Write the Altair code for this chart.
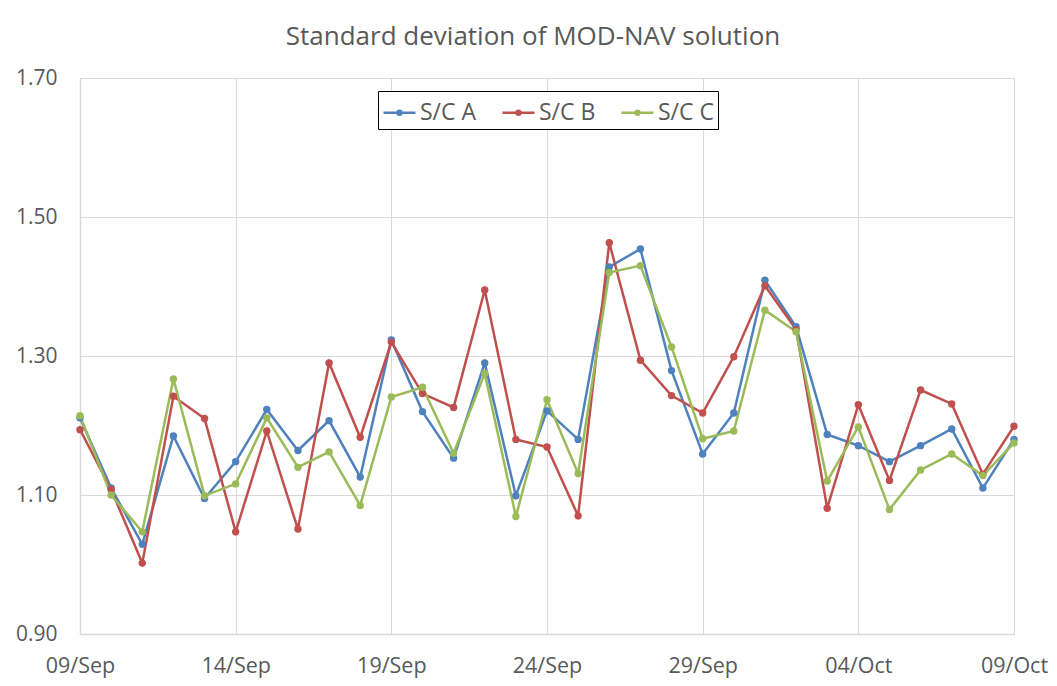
import altair as alt
import pandas as pd

dates = pd.date_range("2015-09-09", periods=31, freq="D").strftime("%Y-%m-%d").tolist()
series_names = ["S/C A", "S/C B", "S/C C"]
colors = ["#4F81BD", "#C0504D", "#9BBB59"]

sc_a = [1.211, 1.110, 1.029, 1.185, 1.095, 1.148, 1.223, 1.164, 1.207, 1.126,
        1.323, 1.220, 1.153, 1.290, 1.099, 1.221, 1.180, 1.428, 1.454, 1.279,
        1.159, 1.218, 1.409, 1.342, 1.187, 1.171, 1.148, 1.171, 1.195, 1.110, 1.180]
sc_b = [1.194, 1.108, 1.002, 1.242, 1.210, 1.047, 1.192, 1.051, 1.290, 1.183,
        1.320, 1.246, 1.226, 1.395, 1.180, 1.169, 1.070, 1.463, 1.294, 1.243,
        1.218, 1.299, 1.401, 1.338, 1.081, 1.230, 1.121, 1.251, 1.231, 1.130, 1.199]
sc_c = [1.214, 1.100, 1.047, 1.267, 1.099, 1.116, 1.211, 1.140, 1.162, 1.085,
        1.241, 1.255, 1.160, 1.275, 1.069, 1.237, 1.131, 1.420, 1.430, 1.313,
        1.181, 1.192, 1.366, 1.335, 1.120, 1.198, 1.079, 1.136, 1.159, 1.128, 1.175]

y_ticks = [0.90, 1.10, 1.30, 1.50, 1.70]
x_tick_dates = ["2015-09-09", "2015-09-14", "2015-09-19", "2015-09-24",
                "2015-09-29", "2015-10-04", "2015-10-09"]

rows = []
for name, vals in zip(series_names, [sc_a, sc_b, sc_c]):
    for d, v in zip(dates, vals):
        rows.append({"date": d, "value": v, "series": name})
df = pd.DataFrame(rows)

FONT = "Open Sans"
TXT = "#595959"
GRID = "#D9D9D9"

def to_dt(s):
    y, m, d = map(int, s.split("-"))
    return alt.DateTime(year=y, month=m, date=d, utc=True)

x_enc = alt.X(
    "date:T",
    scale=alt.Scale(type="utc", domain=[to_dt(x_tick_dates[0]), to_dt(x_tick_dates[-1])]),
    axis=alt.Axis(values=[to_dt(s) for s in x_tick_dates], format="%d/%b",
                  title=None, labelPadding=21, labelFlush=False, labelFontSize=21.5),
)
y_enc = alt.Y(
    "value:Q",
    scale=alt.Scale(domain=[0.9, 1.7], nice=False, zero=False),
    axis=alt.Axis(values=y_ticks, format=".2f", title=None, labelPadding=23,
                  labelFontSize=21),
)
color_scale = alt.Scale(domain=series_names, range=colors)

legend = alt.Legend(
    orient="none", legendX=298, legendY=13, direction="horizontal", title=None,
    symbolType="M-1,0L1,0M-0.12,0A0.12,0.12 0 1,1 0.12,0A0.12,0.12 0 1,1 -0.12,0",
    symbolSize=1024, symbolStrokeWidth=2.5, labelFontSize=23, labelColor=TXT,
    labelFont=FONT, labelOffset=3, columnPadding=20, padding=4,
    strokeColor="#000000", fillColor="white",
)

lines = alt.Chart(df).mark_line(strokeWidth=2.5).encode(
    x=x_enc, y=y_enc,
    color=alt.Color("series:N", scale=color_scale, legend=legend),
)

points = alt.Chart(df).mark_point(filled=True, size=55, opacity=1).encode(
    x=x_enc, y=y_enc,
    color=alt.Color("series:N", scale=color_scale, legend=None),
)

chart = alt.layer(lines, points).properties(
    width=934, height=556,
    title=alt.TitleParams("Standard deviation of MOD-NAV solution", fontSize=26,
                          font=FONT, color=TXT, fontWeight="normal",
                          anchor="middle", dx=-14, baseline="alphabetic", offset=-4),
    autosize=alt.AutoSizeParams(type="none"),
    padding={"left": 72, "top": 70, "right": 35, "bottom": 44},
).configure_axis(
    grid=True, gridColor=GRID, gridWidth=1, domainColor=GRID, domainWidth=1.5,
    ticks=False, labelFont=FONT, labelColor=TXT,
).configure_view(stroke=GRID)

chart.save("out.html", embed_options={"renderer": "svg", "actions": False})
